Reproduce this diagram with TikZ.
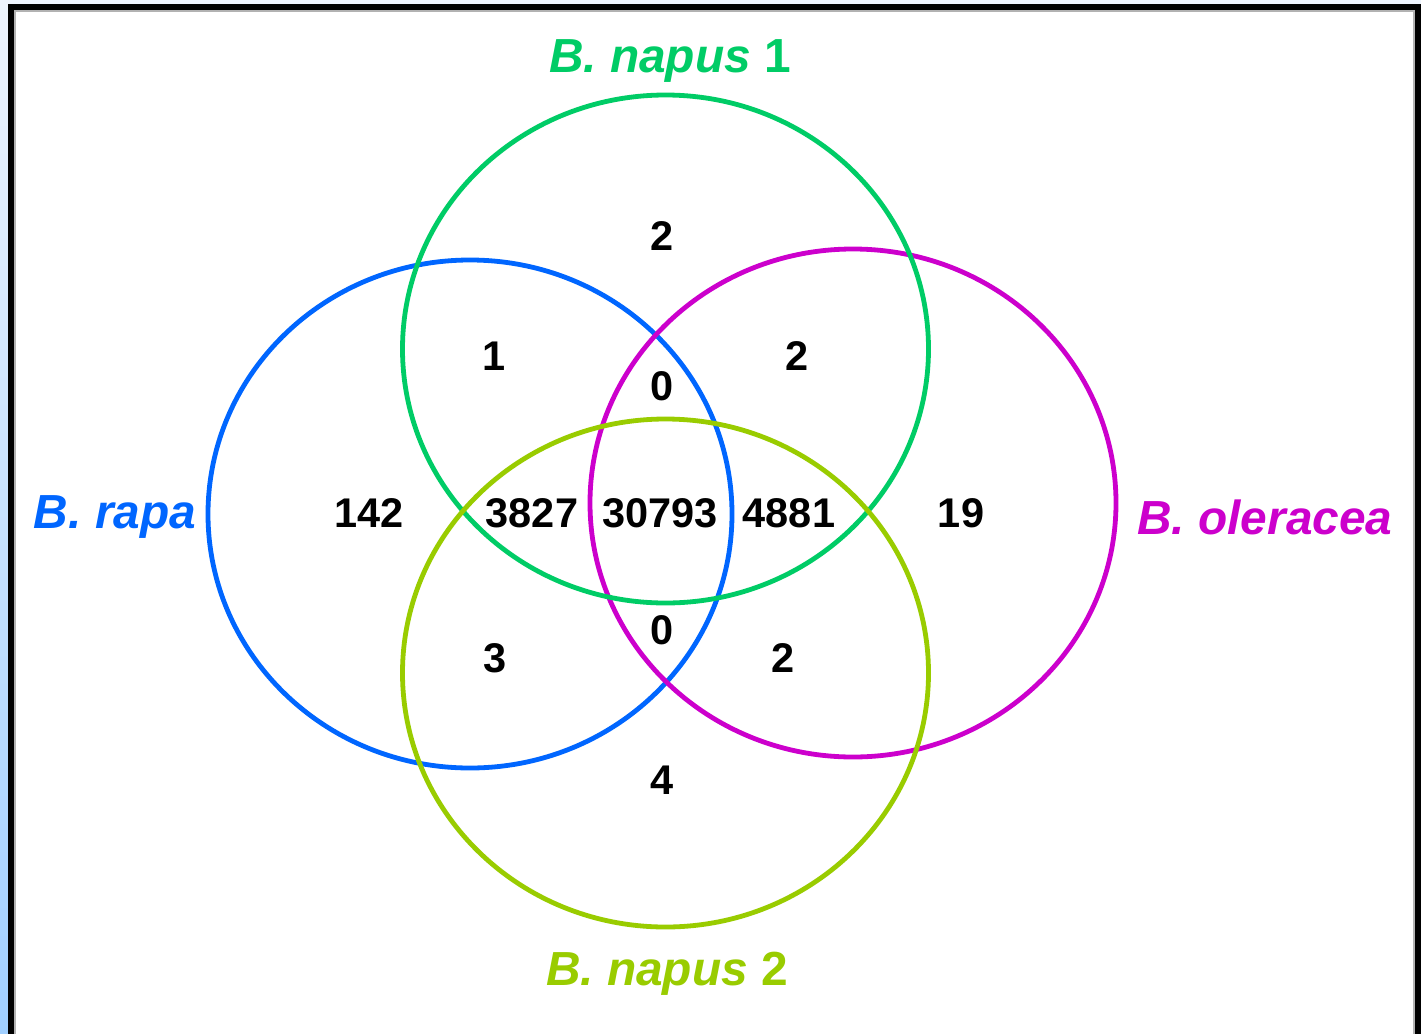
\documentclass[tikz,border=0pt]{standalone}
\usepackage{fontspec}
\setmainfont{Liberation Sans}
\begin{document}
\begin{tikzpicture}[x=0.01cm,y=-0.01cm,
  setring/.style={line width=4.8*0.2845pt},
  count/.style={font=\fontsize{11.8}{14}\selectfont\bfseries, inner sep=0pt},
  setname/.style={font=\fontsize{13.6}{16}\selectfont\bfseries, inner sep=0pt}]
\definecolor{napusA}{HTML}{00CC66}
\definecolor{napusB}{HTML}{99CC00}
\definecolor{rapa}{HTML}{0066FF}
\definecolor{oler}{HTML}{CC00CC}
\definecolor{paleblue}{HTML}{EEF4FD}
\definecolor{skyblue}{HTML}{A0CFFF}
\useasboundingbox (0,0) rectangle (1421,1033);
% window backdrop and frame
\shade[top color=paleblue, bottom color=skyblue] (0,0) rectangle (1421,1033);
\fill[white] (11,7) rectangle (1418,1040);
\draw[gray!60, line width=0.6pt] (14.5,1040) -- (14.5,10.5) -- (1414.5,10.5) -- (1414.5,1040);
\draw[black, line width=6*0.2845pt] (11,1040) -- (11,7) -- (1418,7) -- (1418,1040);
% the four sets
\draw[setring, rapa]   (470,514) ellipse [x radius=262, y radius=254];
\draw[setring, oler]   (853,503) ellipse [x radius=263, y radius=254];
\draw[setring, napusA] (665.5,349) ellipse [x radius=263, y radius=254];
\draw[setring, napusB] (665.5,673) ellipse [x radius=263, y radius=254];
% set names
\node[setname, text=napusA] (n1) at (670,61) {\textit{B. napus} 1};
\node[setname, text=napusB] (n2) at (667,974) {\textit{B. napus} 2};
\node[setname, text=rapa]   (br) at (115,517) {\textit{B. rapa}};
\node[setname, text=oler]   (bo) at (1265,517) {\textit{B. oleracea}};
% region counts
\node[count] (c1)  at (662,236) {2};
\node[count] (c2)  at (494,356) {1};
\node[count] (c3)  at (797,356) {2};
\node[count] (c4)  at (662,386) {0};
\node[count] (c5)  at (369,513) {142};
\node[count] (c6)  at (532,513) {3827};
\node[count] (c7)  at (660,513) {30793};
\node[count] (c8)  at (789,513) {4881};
\node[count] (c9)  at (961,513) {19};
\node[count] (c10) at (662,630) {0};
\node[count] (c11) at (495,658) {3};
\node[count] (c12) at (783,658) {2};
\node[count] (c13) at (662,780) {4};
\end{tikzpicture}
\end{document}
